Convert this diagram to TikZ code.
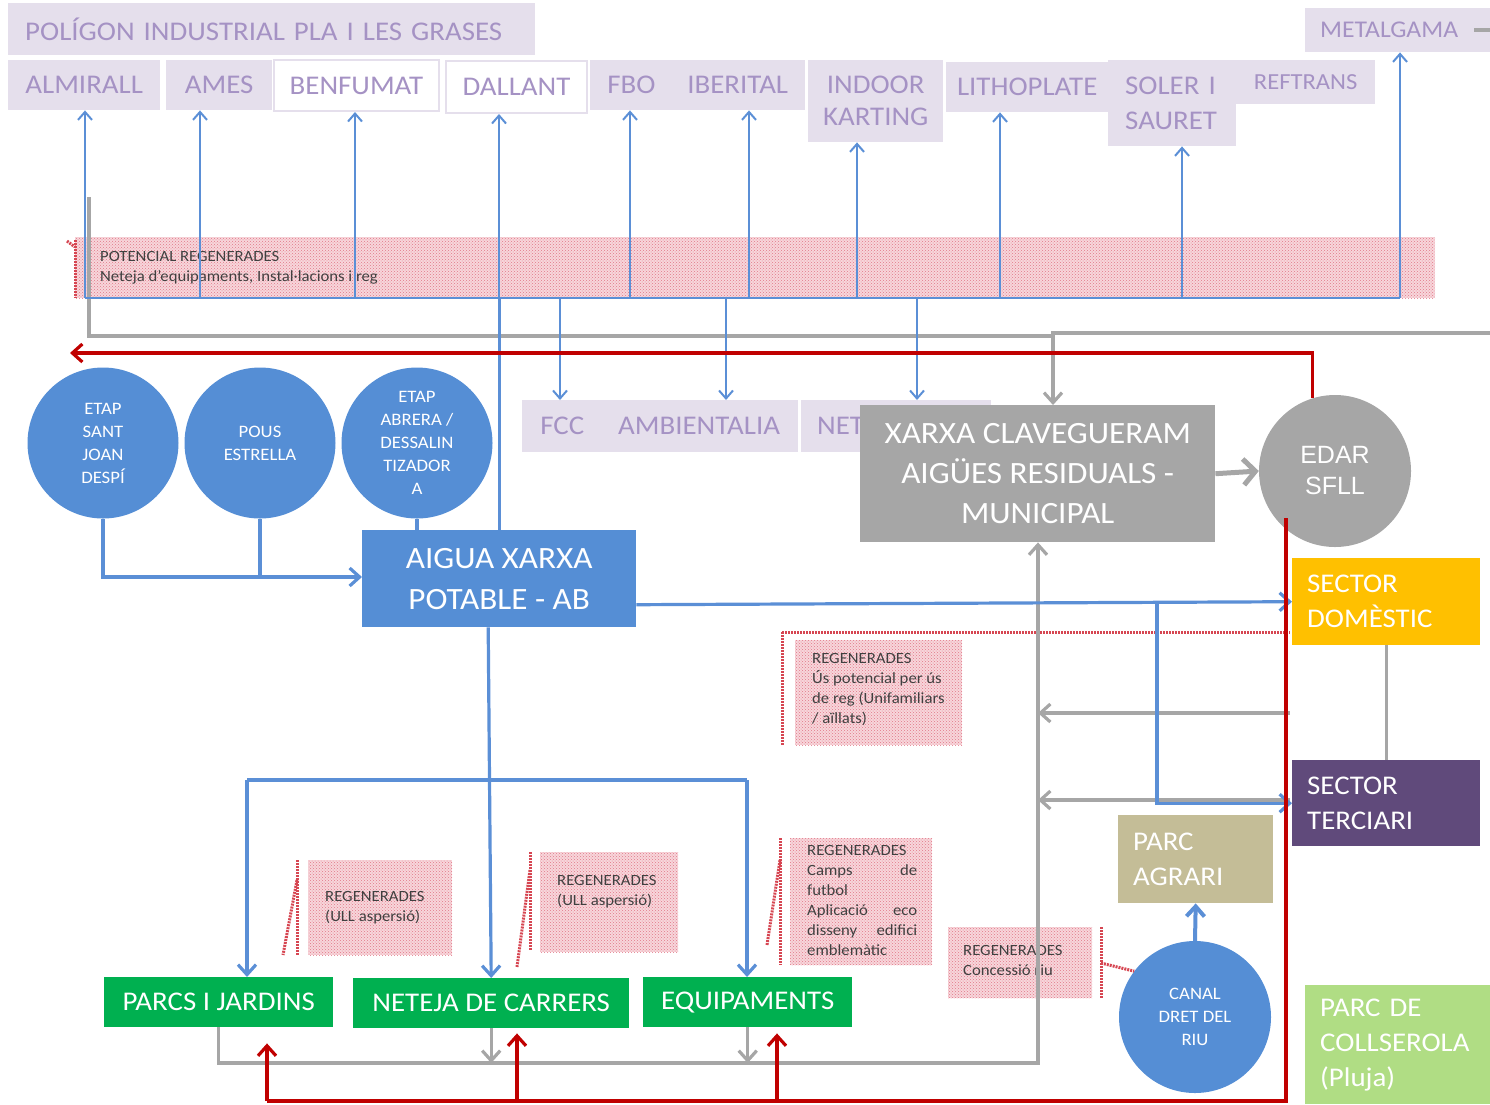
\documentclass[tikz,border=0pt]{standalone}
\usepackage{fontspec}
\setmainfont{Carlito}[FakeStretch=1.07]
\newfontfamily\arialf{Liberation Sans}
\usetikzlibrary{arrows.meta,shapes.geometric,patterns}
\definecolor{lavfill}{RGB}{229,223,236}
\definecolor{lavtext}{RGB}{165,146,196}
\definecolor{bluef}{RGB}{85,142,213}
\definecolor{bluel}{RGB}{91,143,214}
\definecolor{grayf}{RGB}{166,166,166}
\definecolor{redl}{RGB}{192,0,0}
\definecolor{greenf}{RGB}{0,176,80}
\definecolor{yellowf}{RGB}{255,192,0}
\definecolor{purplef}{RGB}{96,74,123}
\definecolor{tanf}{RGB}{196,189,151}
\definecolor{lgreenf}{RGB}{176,221,132}
\definecolor{hatchbg}{RGB}{247,214,219}
\definecolor{hatchfg}{RGB}{226,120,135}
\definecolor{darktext}{RGB}{64,64,64}
\definecolor{reddash}{RGB}{214,70,82}
\newcommand{\fsz}[2]{\fontsize{#1}{#2}\selectfont}
\begin{document}
\begin{tikzpicture}[x=1pt,y=-1pt,
  lav/.style={fill=lavfill, text=lavtext, inner sep=0pt, anchor=north west, font=\fsz{27}{32}},
  wlav/.style={lav, fill=white, draw=lavfill, line width=2pt},
  blk/.style={inner sep=0pt, anchor=north west, text=white},
  circ/.style={circle, fill=bluef, text=white, inner sep=0pt, align=center, minimum size=151pt, font=\fsz{17.5}{23}},
  hatchbox/.style={anchor=north west, inner sep=0pt, fill=hatchbg, postaction={pattern=crosshatch dots, pattern color=hatchfg}},
  htext/.style={text=darktext, font=\fsz{15.6}{20}, align=left, inner sep=0pt, anchor=north west},
  bthin/.style={draw=bluel, line width=2pt},
  bthick/.style={draw=bluel, line width=3.2pt},
  gthick/.style={draw=grayf, line width=3.2pt},
  rthick/.style={draw=redl, line width=3.2pt},
  rdash/.style={draw=reddash, line width=3pt, dash pattern=on 2pt off 1pt},
  arrowT/.style={-{Straight Barb[length=8pt,width=14pt]}},
  arrowS/.style={-{Straight Barb[length=10pt,width=18pt]}}
]
\useasboundingbox (0,0) rectangle (1490,1104);

% ---------- hatched "regenerades" areas ----------
\node[hatchbox, minimum width=1360pt, minimum height=61pt] (pot) at (75,237) {};
\node[htext] (pottext) at (100,251) {POTENCIAL REGENERADES\\Neteja d’equipaments, Instal·lacions i reg};
\node[hatchbox, minimum width=167pt, minimum height=105pt] (hus) at (795,640) {};
\node[htext] (hustext) at (812,653) {REGENERADES\\Ús potencial per ús\\de reg (Unifamiliars\\/ aïllats)};
\node[hatchbox, minimum width=144pt, minimum height=95pt] (hparcs) at (308,860) {};
\node[htext] (hparcst) at (325,891) {REGENERADES\\(ULL aspersió)};
\node[hatchbox, minimum width=138pt, minimum height=100pt] (hnet) at (540,852) {};
\node[htext] (hnett) at (557,875) {REGENERADES\\(ULL aspersió)};
\node[hatchbox, minimum width=142pt, minimum height=127pt] (hequip) at (790,838) {};
\node[htext, text width=110pt] (hequipt) at (807,845) {REGENERADES\\Camps\hfill de\\futbol\\Aplicació\hfill eco\\disseny\hfill edifici\\emblemàtic};
\node[hatchbox, minimum width=144pt, minimum height=71pt] (hriu) at (948,927) {};
\node[htext] (hriut) at (963,945) {REGENERADES\\Concessió riu};

% ---------- top company boxes ----------
\node[lav, minimum width=527pt, minimum height=52pt, inner xsep=17pt, text width=493pt, align=left] (pol) at (8,3) {POLÍGON INDUSTRIAL PLA I LES GRASES};
\node[lav, minimum width=152pt, minimum height=50pt] (almirall) at (8,60) {ALMIRALL};
\node[lav, minimum width=106pt, minimum height=50pt] (ames) at (166,60) {AMES};
\node[wlav, minimum width=165pt, minimum height=51pt] (benfumat) at (273,59) {BENFUMAT};
\node[wlav, minimum width=141pt, minimum height=52pt] (dallant) at (445,60) {DALLANT};
\node[lav, minimum width=215pt, minimum height=50pt] (fbo) at (590,60) {FBO\hspace{32pt}IBERITAL};
\node[lav, minimum width=135pt, minimum height=82pt, align=center] (indoor) at (808,60) {INDOOR\\KARTING};
\node[lav, minimum width=162pt, minimum height=50pt] (litho) at (946,62) {LITHOPLATE};
\node[lav, minimum width=128pt, minimum height=86pt, align=left, inner xsep=17pt, text width=94pt, font=\fsz{27}{35}] (soler) at (1108,60) {SOLER I\\SAURET};
\node[lav, minimum width=139pt, minimum height=44pt, font=\fsz{23}{28}] (reftrans) at (1236,60) {REFTRANS};
\node[lav, minimum width=185pt, minimum height=44pt, align=left, inner xsep=15pt, text width=155pt, font=\fsz{24}{28}] (metal) at (1305,8) {METALGAMA};
\node[lav, minimum width=276pt, minimum height=52pt] (fcc) at (522,400) {FCC\hspace{34pt}AMBIENTALIA};
\node[lav, minimum width=190pt, minimum height=52pt, align=left, inner xsep=16pt, text width=158pt] (net) at (801,400) {NET};

% ---------- main blocks ----------
\node[blk, fill=grayf, minimum width=355pt, minimum height=137pt, align=center, font=\fsz{31}{40}] (xarxa) at (860,405) {XARXA CLAVEGUERAM\\AIGÜES RESIDUALS -\\MUNICIPAL};
\node[circle, fill=grayf, text=white, minimum size=152pt, inner sep=0pt, align=center, font=\arialf\fsz{25}{31}] (edar) at (1335,471) {EDAR\\SFLL};
\node[circ] (c1) at (103,443) {ETAP\\SANT\\JOAN\\DESPÍ};
\node[circ] (c2) at (260,443) {POUS\\ESTRELLA};
\node[circ] (c3) at (417,443) {ETAP\\ABRERA /\\DESSALIN\\TIZADOR\\A};
\node[blk, fill=bluef, minimum width=274pt, minimum height=97pt, align=center, font=\fsz{31}{41}] (aigua) at (362,530) {AIGUA XARXA\\POTABLE - AB};
\node[blk, fill=yellowf, minimum width=188pt, minimum height=87pt, align=left, inner xsep=15pt, text width=158pt, font=\fsz{27}{35}] (dom) at (1292,558) {SECTOR\\DOMÈSTIC};
\node[blk, fill=purplef, minimum width=188pt, minimum height=86pt, align=left, inner xsep=15pt, text width=158pt, font=\fsz{27}{35}] (terc) at (1292,760) {SECTOR\\TERCIARI};
\node[blk, fill=tanf, minimum width=155pt, minimum height=88pt, align=left, inner xsep=15pt, text width=125pt, font=\fsz{27}{35}] (agrari) at (1118,815) {PARC\\AGRARI};
\node[circ, minimum size=152pt] (canal) at (1195,1017) {CANAL\\DRET DEL\\RIU};
\node[blk, fill=lgreenf, minimum width=185pt, minimum height=119pt, align=left, inner xsep=15pt, text width=155pt, font=\fsz{27}{35}] (coll) at (1305,985) {PARC DE\\COLLSEROLA\\(Pluja)};
\node[blk, fill=greenf, minimum width=229pt, minimum height=50pt, font=\fsz{27}{32}] (parcs) at (104,977) {PARCS I JARDINS};
\node[blk, fill=greenf, minimum width=276pt, minimum height=50pt, font=\fsz{27}{32}] (neteja) at (353,978) {NETEJA DE CARRERS};
\node[blk, fill=greenf, minimum width=209pt, minimum height=50pt, font=\fsz{27}{32}] (equip) at (643,977) {EQUIPAMENTS};

% ---------- red dotted brackets ----------
\draw[rdash] (75,240) -- (75,298);
\draw[rdash] (67,241) -- (75,247);
\draw[rdash] (782,632) -- (1290,632);
\draw[rdash] (782,632) -- (782,745);
\draw[rdash] (297,860) -- (297,955);
\draw[rdash] (297,880) -- (283,955);
\draw[rdash] (530,852) -- (530,950);
\draw[rdash] (530,870) -- (517,967);
\draw[rdash] (780,838) -- (780,965);
\draw[rdash] (780,860) -- (767,945);
\draw[rdash] (1101,927) -- (1101,998);
\draw[rdash] (1101,963) -- (canal.143);

% ---------- gray connectors ----------
\coordinate (gR) at (1490,333);
\coordinate (gJ) at (1053,333);
\coordinate (gJ2) at (1053,336);
\coordinate (gL) at (89,336);
\coordinate (gT) at (89,197);
\draw[gthick, arrowS] (gR) -- (gJ) -- (gJ |- xarxa.north);
\draw[gthick] (gJ2) -- (gL) -- (gT);
\coordinate (mS) at (1474,30);
\coordinate (mE) at (1490,30);
\draw[gthick] (mS) -- (mE);
\draw[draw=grayf, line width=5pt, -{Straight Barb[length=12pt,width=26pt]}] (xarxa.east) -- (edar.west);
\coordinate (gB) at (1038,1063);
\draw[gthick, arrowS] (parcs.south) |- (gB) -- (gB |- xarxa.south);
\draw[gthick, arrowS] (neteja.south) -- (neteja.south |- gB);
\draw[gthick, arrowS] (equip.south) -- (equip.south |- gB);
\draw[gthick] (dom.south) -- (terc.north);
\coordinate (ga1) at (1290,713);
\coordinate (ga2) at (1290,800);
\draw[gthick, arrowS] (ga1) -- (ga1 -| gB);
\draw[gthick, arrowS] (ga2) -- (ga2 -| gB);

% ---------- blue connectors ----------
\coordinate (busL) at (85,298);
\coordinate (busR) at (1400,298);
\draw[bthin] (busL) -- (busR);
\foreach \x/\n in {85/almirall,200/ames,355/benfumat,499/dallant,630/fbo,749/fbo,857/indoor,1000/litho,1182/soler,1400/metal}{
  \coordinate (tu) at (\x,298);
  \draw[bthin, arrowT] (tu) -- (tu |- \n.south);
}
\foreach \x/\n in {560/fcc,726/fcc,917/net}{
  \coordinate (td) at (\x,298);
  \draw[bthin, arrowT] (td) -- (td |- \n.north);
}
\draw[bthick] (aigua.north |- busL) -- (aigua.north);
\coordinate (j1) at (103,577);
\draw[bthick, arrowS] (c1.south) -- (j1) -- (j1 -| aigua.west);
\draw[bthick] (c2.south) -- (c2.south |- j1);
\draw[bthick] (c3.south) -- (c3.south |- aigua.north);
\draw[bthick, arrowS] ([yshift=-26pt]aigua.east) -- (dom.west);
\coordinate (bj) at (1157,603.5);
\draw[bthick, arrowS] (bj) |- (terc.west);
\coordinate (gl) at (247,780);
\coordinate (gr) at (747,780);
\draw[bthick, arrowS] ([xshift=-11pt]aigua.south) -- (neteja.north);
\draw[bthick] (gl) -- (gr);
\draw[bthick, arrowS] (gl) -- (gl |- parcs.north);
\draw[bthick, arrowS] (gr) -- (gr |- equip.north);
\draw[draw=bluel, line width=4pt, arrowS] (canal.north) -- (agrari.south);

% ---------- red connectors ----------
\coordinate (rL) at (70,353);
\coordinate (rT) at (1313,353);
\draw[rthick, arrowS] (edar.107) -- (edar.107 |- rT) -- (rL);
\coordinate (rB) at (267,1101);
\coordinate (rB2) at (517,1101);
\coordinate (rB3) at (777,1101);
\draw[rthick] ([yshift=11pt]edar.230) |- (rB);
\draw[rthick, arrowS, shorten >=16pt] (rB) -- (rB |- parcs.south);
\draw[rthick, arrowS, shorten >=5pt] (rB2) -- (rB2 |- neteja.south);
\draw[rthick, arrowS, shorten >=6pt] (rB3) -- (rB3 |- equip.south);
\end{tikzpicture}
\end{document}
